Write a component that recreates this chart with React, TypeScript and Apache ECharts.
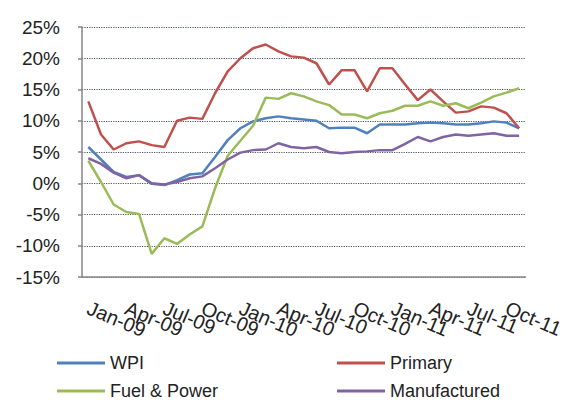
import React, { useEffect, useRef } from "react";
import * as echarts from "echarts";

const categories = [
  "Jan-09", "Feb-09", "Mar-09", "Apr-09", "May-09", "Jun-09", "Jul-09", "Aug-09", "Sep-09", "Oct-09", "Nov-09", "Dec-09",
  "Jan-10", "Feb-10", "Mar-10", "Apr-10", "May-10", "Jun-10", "Jul-10", "Aug-10", "Sep-10", "Oct-10", "Nov-10", "Dec-10",
  "Jan-11", "Feb-11", "Mar-11", "Apr-11", "May-11", "Jun-11", "Jul-11", "Aug-11", "Sep-11", "Oct-11", "Nov-11",
];

const wpi = [
  5.8, 3.8, 1.8, 1.0, 1.3, -0.1, -0.3, 0.5, 1.4, 1.6, 4.2, 6.9,
  8.8, 9.9, 10.4, 10.7, 10.4, 10.2, 10.0, 8.8, 8.9, 8.9, 8.0, 9.4,
  9.4, 9.4, 9.6, 9.7, 9.6, 9.4, 9.4, 9.6, 9.9, 9.7, 8.8,
];

const primary = [
  13.1, 7.8, 5.4, 6.4, 6.7, 6.1, 5.8, 10.0, 10.5, 10.3, 14.4, 17.9,
  20.0, 21.6, 22.2, 21.1, 20.3, 20.1, 19.2, 15.8, 18.1, 18.1, 14.7, 18.4,
  18.4, 15.8, 13.3, 15.0, 13.1, 11.3, 11.5, 12.3, 12.1, 11.2, 8.8,
];

const fuelPower = [
  3.6, 0.2, -3.4, -4.6, -4.9, -11.3, -8.8, -9.7, -8.2, -6.9, -0.8, 4.4,
  6.8, 9.2, 13.7, 13.5, 14.4, 13.9, 13.1, 12.5, 11.0, 11.0, 10.4, 11.2,
  11.6, 12.4, 12.4, 13.1, 12.4, 12.8, 12.0, 12.9, 13.9, 14.5, 15.2,
];

const manufactured = [
  4.0, 3.1, 1.7, 0.8, 1.3, 0.0, -0.2, 0.2, 0.8, 1.1, 2.4, 3.8,
  4.9, 5.3, 5.4, 6.4, 5.8, 5.6, 5.8, 5.0, 4.8, 5.0, 5.1, 5.3,
  5.3, 6.3, 7.4, 6.7, 7.4, 7.8, 7.6, 7.8, 8.0, 7.6, 7.6,
];

const seriesNames = ["WPI", "Primary", "Fuel & Power", "Manufactured"];
const seriesColors = ["#4F81BD", "#C0504D", "#9BBB59", "#8064A2"];
const seriesData = [wpi, primary, fuelPower, manufactured];

const LABEL_EVERY = 3;
const FONT = "'Liberation Sans', Arial, sans-serif";

// legend slot per series (column, row)
const legendSlots = [
  { left: 57, top: 354 },
  { left: 337, top: 354 },
  { left: 57, top: 382 },
  { left: 337, top: 382 },
];

export default function App() {
  const ref = useRef<HTMLDivElement>(null);

  useEffect(() => {
    if (!ref.current) return;
    const chart = echarts.init(ref.current, undefined, { renderer: "svg" });
    chart.setOption({
      animation: false,
      backgroundColor: "#fff",
      grid: { left: 82, right: 40, top: 27, bottom: 123, containLabel: false },
      legend: seriesNames.map((name, i) => ({
        left: legendSlots[i].left,
        top: legendSlots[i].top,
        padding: 0,
        itemWidth: 48,
        itemHeight: 3,
        icon: "rect",
        data: [name],
        textStyle: { fontFamily: FONT, fontSize: 18, color: "#222" },
      })),
      xAxis: {
        type: "category",
        data: categories,
        boundaryGap: true,
        axisLine: { onZero: false, lineStyle: { color: "#868686", width: 1.5 } },
        axisTick: { interval: LABEL_EVERY - 1, length: 5, lineStyle: { color: "#868686", width: 1.5 } },
        axisLabel: {
          interval: 0,
          formatter: (value: string, index: number) => (index % LABEL_EVERY === 0 ? value : ""),
          rotate: -23,
          margin: 30,
          hideOverlap: false,
          fontFamily: FONT,
          fontSize: 20,
          color: "#222",
        },
        splitLine: { show: false },
      },
      yAxis: {
        type: "value",
        min: -15,
        max: 25,
        interval: 5,
        axisLine: { show: true, lineStyle: { color: "#868686", width: 1.5 } },
        axisTick: { show: true, length: 4, lineStyle: { color: "#868686", width: 1.5 } },
        axisLabel: {
          formatter: "{value}%",
          margin: 22,
          fontFamily: FONT,
          fontSize: 19,
          color: "#222",
        },
        splitLine: { show: true, lineStyle: { type: "dotted", color: "#4a5560", width: 1.2 } },
      },
      series: seriesNames.map((name, i) => ({
        name,
        type: "line",
        data: seriesData[i],
        symbol: "none",
        smooth: false,
        lineStyle: { color: seriesColors[i], width: 2.5 },
        itemStyle: { color: seriesColors[i] },
      })),
    });
    return () => chart.dispose();
  }, []);

  return (
    <div
      ref={ref}
      style={{ position: "fixed", left: 0, top: 0, width: 567, height: 400 }}
    />
  );
}
